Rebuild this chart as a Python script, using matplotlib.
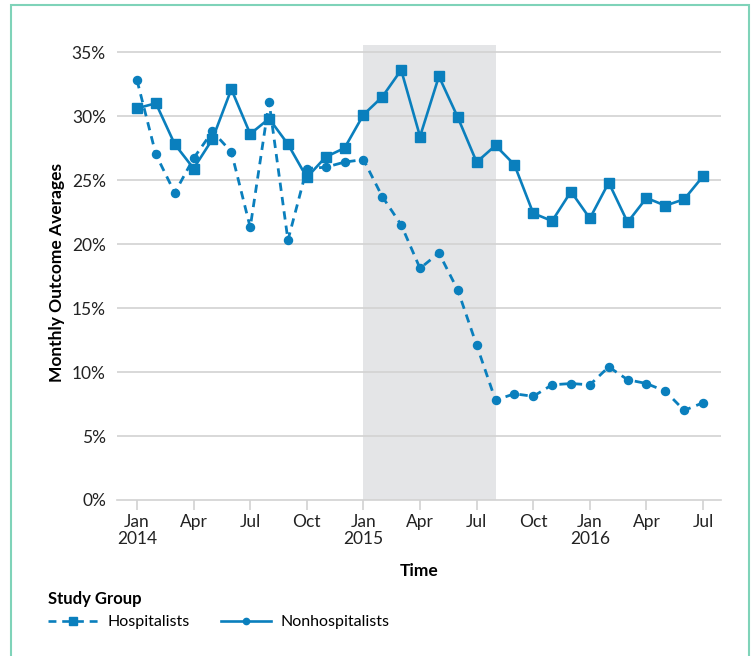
import matplotlib
matplotlib.use("Agg")
import matplotlib.pyplot as plt
from matplotlib.lines import Line2D
from matplotlib.patches import Rectangle

plt.rcParams['font.family'] = ['Lato', 'DejaVu Sans']

# months since Jan 2014
months = list(range(31))
tick_pos = [0, 3, 6, 9, 12, 15, 18, 21, 24, 27, 30]
tick_labels = ["Jan\n2014", "Apr", "Jul", "Oct", "Jan\n2015", "Apr", "Jul", "Oct", "Jan\n2016", "Apr", "Jul"]
y_ticks = [0, 5, 10, 15, 20, 25, 30, 35]

solid_vals = [30.6, 31.0, 27.8, 25.9, 28.2, 32.1, 28.6, 29.8, 27.8, 25.2, 26.8, 27.5,
              30.1, 31.5, 33.6, 28.4, 33.1, 29.9, 26.4, 27.7, 26.2, 22.4, 21.8, 24.1,
              22.0, 24.8, 21.7, 23.6, 23.0, 23.5, 25.3]
dashed_vals = [32.8, 27.0, 24.0, 26.7, 28.8, 27.2, 21.3, 31.1, 20.3, 25.9, 26.0, 26.4,
               26.6, 23.7, 21.5, 18.1, 19.3, 16.4, 12.1, 7.8, 8.3, 8.1, 9.0, 9.1,
               9.0, 10.4, 9.4, 9.1, 8.5, 7.0, 7.6]
shade_start, shade_end = 12, 19
legend_names = ["Hospitalists", "Nonhospitalists"]

blue = "#0a7fbd"
grid_c = "#d2d2d2"
dash = (0, (3.0, 2.2))

W, H = 753, 656
fig = plt.figure(figsize=(W / 100, H / 100), dpi=100)
ax = fig.add_axes([117 / W, 1 - 500 / H, (721 - 117) / W, (500 - 45) / H])

ax.axvspan(shade_start, shade_end, color="#e4e5e7", lw=0, zorder=0)
for yv in y_ticks[1:]:
    ax.axhline(yv, color=grid_c, lw=1.2, zorder=1)

ax.plot(months, dashed_vals, color=blue, lw=2.0, linestyle=dash,
        marker="o", markersize=5.8, zorder=3)
ax.plot(months, solid_vals, color=blue, lw=1.9, marker="s", markersize=6.8, zorder=4)

ax.set_xlim(-1.06, 30.95)
ax.set_ylim(0, 35.55)
ax.set_yticks(y_ticks)
ax.set_yticklabels([f"{v}%" for v in y_ticks])
ax.set_xticks(tick_pos)
ax.set_xticklabels(tick_labels, linespacing=1.05)

for s in ["top", "right", "left"]:
    ax.spines[s].set_visible(False)
ax.spines["bottom"].set_color(grid_c)
ax.spines["bottom"].set_linewidth(1.2)
ax.tick_params(axis="y", length=0, pad=8, labelsize=12.5, labelcolor="#222222")
ax.tick_params(axis="x", length=7, width=1.2, color=grid_c, pad=3, labelsize=12.5,
               labelcolor="#222222")

ax.set_ylabel("Monthly Outcome Averages", fontsize=12.5, fontweight="bold", labelpad=5)
ax.set_xlabel("Time", fontsize=12.5, fontweight="bold", labelpad=12)

handles = [
    Line2D([], [], color=blue, lw=1.9, linestyle=dash, marker="s", markersize=6),
    Line2D([], [], color=blue, lw=1.9, marker="o", markersize=4.5),
]
leg = ax.legend(handles, legend_names, title="Study Group", loc="upper left",
                bbox_to_anchor=(40 / W, 1 - 583 / H), bbox_transform=fig.transFigure,
                ncol=2, frameon=False, fontsize=11.5, handlelength=3.1, columnspacing=2.0,
                handletextpad=0.6, borderpad=0, alignment="left",
                title_fontproperties={"weight": "bold", "size": 12})

fig.patches.append(Rectangle((11 / W, -0.05), (749 - 11) / W, 1.05 - 5 / H,
                             transform=fig.transFigure, fill=False,
                             edgecolor="#7fd3b9", lw=1.5))

fig.savefig("out.png", dpi=100)
